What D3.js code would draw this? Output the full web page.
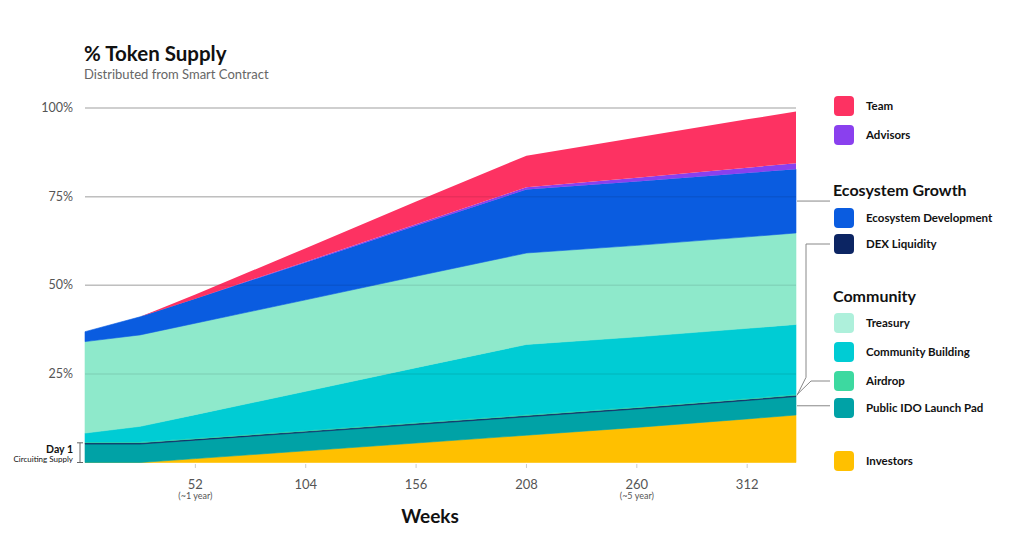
<!DOCTYPE html>
<html>
  <head>
    <meta charset="utf-8">
    <script src="https://d3js.org/d3.v7.min.js"></script>
    <style>
      body { margin: 0; background: #fff; }
      text { font-family: Lato, "Open Sans", sans-serif; }
      .title { font-size: 20.5px; font-weight: 700; fill: #111; }
      .sub-title { font-size: 13px; fill: #666; }
      .ylab { font-size: 12.5px; fill: #555; }
      .xlab { font-size: 13px; fill: #555; }
      .xsub { font-size: 9px; fill: #555; }
      .leg { font-size: 11.5px; font-weight: 700; fill: #111; }
      .leg-head { font-size: 16px; font-weight: 700; fill: #111; }
      .link { fill: none; stroke: #888; stroke-width: 1; }
    </style>
  </head>
  <body>
    <div id="chart"></div>
    <script>
// weeks sampled from the chart
var weeks = [0, 26, 52, 104, 156, 208, 260, 312, 335];

// % of total supply released, per allocation
var investors  = [0, 0, 1.1, 3.3, 5.5, 7.7, 9.9, 12.3, 13.4];
var publicIdo  = [5.2, 5.2, 5.2, 5.2, 5.2, 5.2, 5.2, 5.2, 5.2];
var dexLiq     = [0.35, 0.35, 0.35, 0.35, 0.35, 0.35, 0.35, 0.35, 0.35];
var airdrop    = [0.2, 0.2, 0.2, 0.2, 0.2, 0.2, 0.2, 0.2, 0.2];
var community  = [2.55, 4.45, 6.65, 11.05, 15.5, 19.85, 19.8, 19.8, 19.8];
var treasury   = [25.8, 25.8, 25.8, 25.8, 25.8, 25.8, 25.8, 25.8, 25.8];
var ecoDev     = [2.8, 5.1, 6.9, 10.5, 14.2, 17.9, 18.0, 18.0, 18.0];
var advisors   = [0, 0, 0, 0.25, 0.45, 0.65, 1.1, 1.5, 1.7];
var team       = [0, 0, 1.2, 3.8, 6.4, 8.9, 11.35, 13.65, 14.55];

var yTicks = [25, 50, 75, 100];
var xTicks = [52, 104, 156, 208, 260, 312];
var xSubs = {52: "(~1 year)", 260: "(~5 year)"};

var series = [
  {key: "investors", name: "Investors", color: "#ffc000", values: investors},
  {key: "publicIdo", name: "Public IDO Launch Pad", color: "#00a2a6", values: publicIdo},
  {key: "dexLiq", name: "DEX Liquidity", color: "#0c2563", values: dexLiq},
  {key: "airdrop", name: "Airdrop", color: "#3dd9a0", values: airdrop},
  {key: "community", name: "Community Building", color: "#00ccd4", values: community},
  {key: "treasury", name: "Treasury", color: "#8ee9cb", values: treasury},
  {key: "ecoDev", name: "Ecosystem Development", color: "#0a5ce0", values: ecoDev},
  {key: "advisors", name: "Advisors", color: "#8a40ee", values: advisors},
  {key: "team", name: "Team", color: "#fd3262", values: team}
];

var width = 1024, height = 538;

var table = weeks.map(function(w, i) {
  var row = {week: w};
  series.forEach(function(s) { row[s.key] = s.values[i]; });
  return row;
});

var x = d3.scaleLinear().domain([0, 335]).range([85, 796]);
var y = d3.scaleLinear().domain([0, 100]).range([462.5, 108]);

var svg = d3.select("#chart").append("svg")
  .attr("width", width)
  .attr("height", height);

// ---------- TITLE -----------
svg.append("text").attr("class", "title").attr("x", 84).attr("y", 61).text("% Token Supply");
svg.append("text").attr("class", "sub-title").attr("x", 84).attr("y", 79).text("Distributed from Smart Contract");

// gridlines under the areas
svg.append("g").selectAll("line")
  .data(yTicks).enter().append("line")
  .attr("x1", x(0)).attr("x2", x(335))
  .attr("y1", function(d) { return y(d); })
  .attr("y2", function(d) { return y(d); })
  .style("stroke", "#d0d0d0").style("stroke-width", 1.5);

var stack = d3.stack().keys(series.map(function(s) { return s.key; }));
var layers = stack(table);

var area = d3.area()
  .x(function(d) { return x(d.data.week); })
  .y0(function(d) { return y(d[0]); })
  .y1(function(d) { return y(d[1]); });

// team and advisors start at zero, so no stroke there (it would leak a line)
svg.append("g").selectAll("path")
  .data(layers).enter().append("path")
  .attr("d", area)
  .style("fill", function(d, i) { return series[i].color; })
  .style("stroke", function(d, i) { return i < 7 ? series[i].color : "none"; })
  .style("stroke-width", 0.6);

// faint gridlines on top
svg.append("g").selectAll("line")
  .data(yTicks).enter().append("line")
  .attr("x1", x(0)).attr("x2", x(335))
  .attr("y1", function(d) { return y(d); })
  .attr("y2", function(d) { return y(d); })
  .style("stroke", "#000").style("stroke-opacity", 0.08).style("stroke-width", 1.5);

// y labels
svg.append("g").selectAll("text")
  .data(yTicks).enter().append("text")
  .attr("class", "ylab")
  .attr("x", 73).attr("y", function(d) { return y(d) + 4; })
  .attr("text-anchor", "end")
  .text(function(d) { return d + "%"; });

// day 1 bracket
var d1 = y(publicIdo[0] + dexLiq[0]);
svg.append("path").attr("class", "link")
  .attr("d", "M77," + d1 + "H83M80," + d1 + "V" + y(0) + "M77," + y(0) + "H83")
  .style("stroke", "#666");
svg.append("text").attr("x", 73).attr("y", 453).attr("text-anchor", "end")
  .style("font-size", "10.5px").style("font-weight", 700).style("fill", "#111").text("Day 1");
svg.append("text").attr("x", 73).attr("y", 462).attr("text-anchor", "end")
  .style("font-size", "8px").style("fill", "#111").text("Circuiting Supply");

// x ticks
var xg = svg.append("g");
xg.selectAll("line")
  .data(xTicks).enter().append("line")
  .attr("x1", function(d) { return x(d); }).attr("x2", function(d) { return x(d); })
  .attr("y1", 464).attr("y2", 468)
  .style("stroke", "#ccc");
xg.selectAll("text.xlab")
  .data(xTicks).enter().append("text")
  .attr("class", "xlab")
  .attr("x", function(d) { return x(d); }).attr("y", 489)
  .attr("text-anchor", "middle")
  .text(function(d) { return d; });
xg.selectAll("text.xsub")
  .data(xTicks.filter(function(d) { return xSubs[d]; })).enter().append("text")
  .attr("class", "xsub")
  .attr("x", function(d) { return x(d); }).attr("y", 499)
  .attr("text-anchor", "middle")
  .text(function(d) { return xSubs[d]; });
svg.append("text").attr("x", 430).attr("y", 523).attr("text-anchor", "middle")
  .style("font-size", "19px").style("font-weight", 700).style("fill", "#111").text("Weeks");

// ---------- LEGEND -----------
var legendRows = [
  {key: "team", y: 106}, {key: "advisors", y: 135},
  {head: "Ecosystem Growth", y: 190},
  {key: "ecoDev", y: 218}, {key: "dexLiq", y: 244},
  {head: "Community", y: 296},
  {key: "treasury", y: 323}, {key: "community", y: 352},
  {key: "airdrop", y: 381}, {key: "publicIdo", y: 408},
  {key: "investors", y: 461}
];
var lg = svg.append("g");
legendRows.forEach(function(r) {
  if (r.head) {
    lg.append("text").attr("class", "leg-head").attr("x", 833).attr("y", r.y + 6).text(r.head);
    return;
  }
  var s = series.find(function(d) { return d.key === r.key; });
  lg.append("rect").attr("x", 834).attr("y", r.y - 10).attr("width", 20).attr("height", 20)
    .attr("rx", 4).style("fill", r.key === "treasury" ? "#aef0db" : s.color);
  lg.append("text").attr("class", "leg").attr("x", 866).attr("y", r.y + 4).text(s.name);
});

// connector lines from legend to the right edge of the chart
var last = layers.map(function(l) { return l[l.length - 1]; });
var idx = function(k) { return series.findIndex(function(s) { return s.key === k; }); };
var xe = x(335) + 1;
var ecoMid = y((last[idx("ecoDev")][0] + last[idx("ecoDev")][1]) / 2);
var dexTop = y(last[idx("dexLiq")][1]);
var airTop = y(last[idx("airdrop")][1]);
var idoMid = y((last[idx("publicIdo")][0] + last[idx("publicIdo")][1]) / 2);
lg.append("path").attr("class", "link").attr("d", "M" + xe + "," + ecoMid + "H830");
lg.append("path").attr("class", "link").attr("d", "M" + xe + "," + dexTop + "L806," + (dexTop - 18) + "V244H830");
lg.append("path").attr("class", "link").attr("d", "M" + xe + "," + airTop + "L811,381H830");
lg.append("path").attr("class", "link").attr("d", "M" + xe + "," + idoMid + "H830");
    </script>
  </body>
</html>
